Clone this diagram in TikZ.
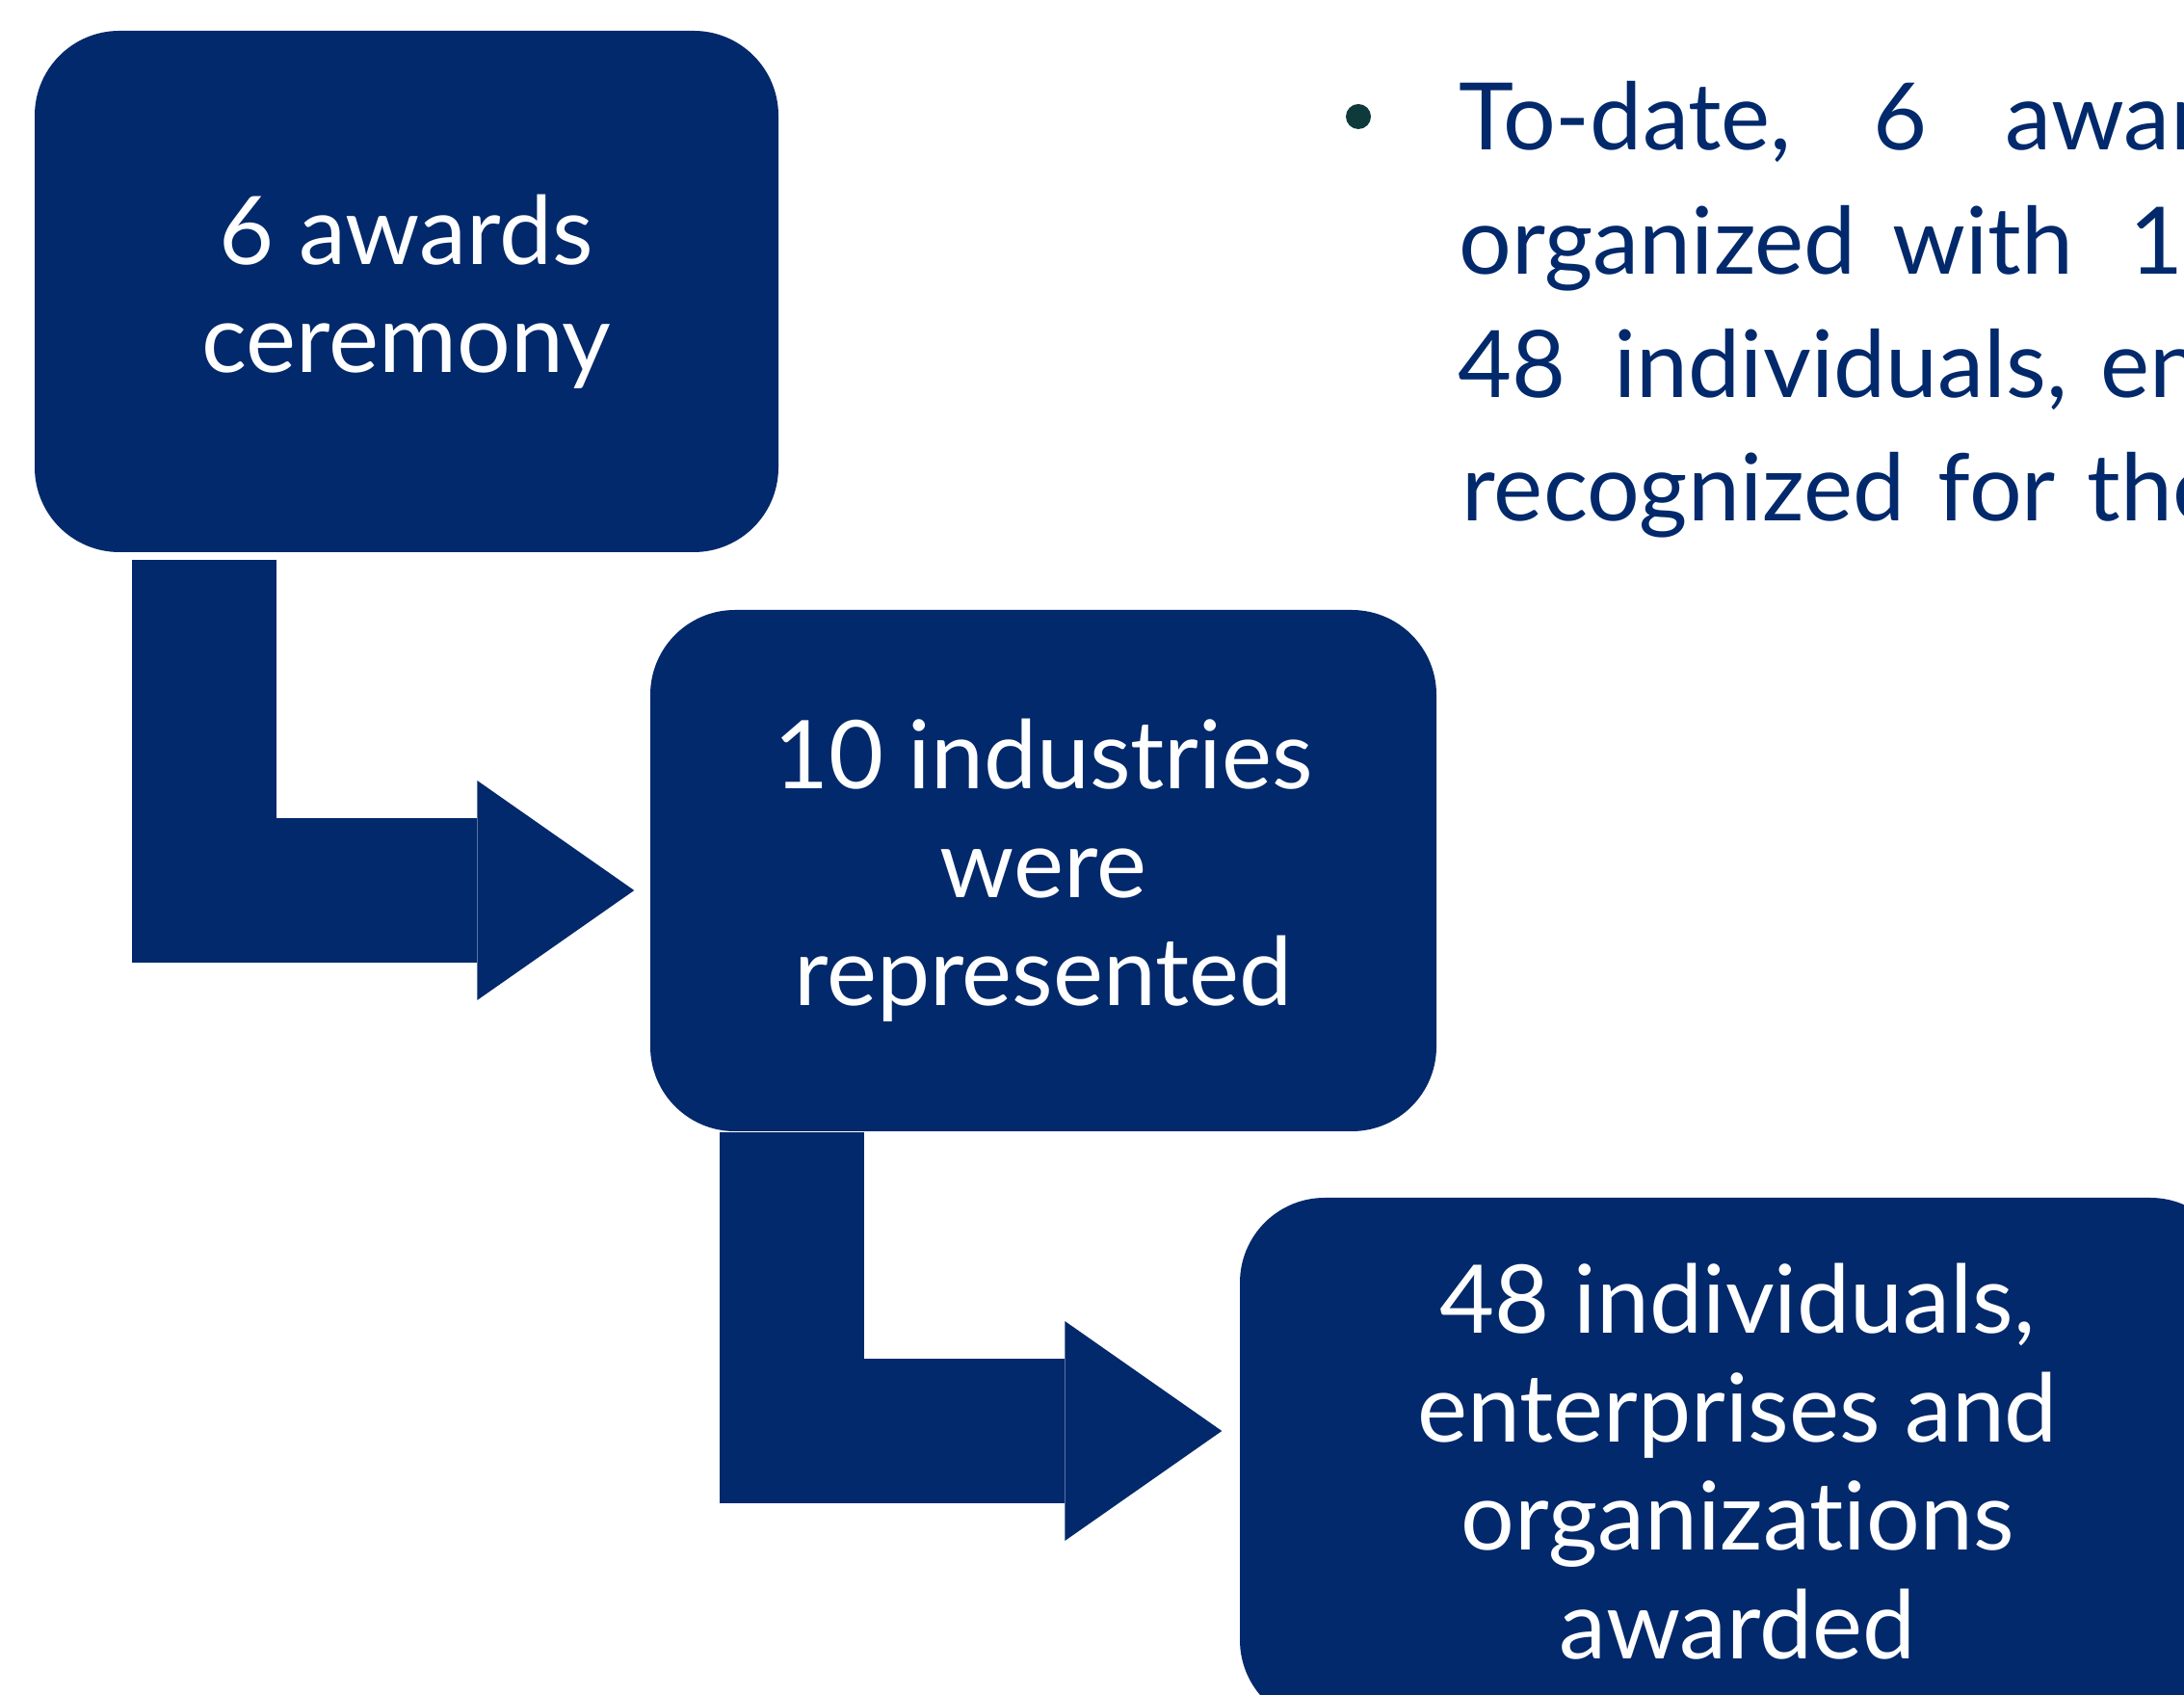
\documentclass[tikz,border=0pt]{standalone}
\usepackage{fontspec}
\setmainfont{Lato}[Ligatures=NoCommon]
\usetikzlibrary{arrows.meta}
\definecolor{navy}{HTML}{02296B}
\definecolor{dotcol}{HTML}{0E3A3C}
\begin{document}
\begin{tikzpicture}[
  stage/.style={fill=navy, rounded corners=0.88cm, minimum height=5.41cm, inner sep=0pt,
    align=center, text=white, font=\fontsize{28}{32}\selectfont},
  flow/.style={draw=navy, line width=1.5cm,
    -{Triangle[length=1.63cm,width=2.28cm,line width=0pt]}},
  say/.style={anchor=base west, inner sep=0pt, text=navy, font=\fontsize{27.5}{33}\selectfont}]
\useasboundingbox (0,0) rectangle (22.67,17.58);
\clip (0,0) rectangle (22.67,17.58);

\node[stage, minimum width=7.72cm] at (4.22,14.555) (cer) {6 awards\\ceremony};
\node[stage, minimum width=8.16cm] at (10.83,8.545) (ind) {10 industries\\were\\represented};
\node[stage, minimum width=10.33cm, minimum height=5.47cm] at (18.035,2.415) (win) {48 individuals,\\enterprises and\\organizations\\awarded};

\draw[flow] ([xshift=1.765cm,yshift=-0.07cm]cer.south west) |- ([xshift=-0.16cm,yshift=-0.205cm]ind.west);
\draw[flow] ([xshift=1.48cm]ind.south west) |- ([xshift=-0.18cm,yshift=0.315cm]win.west);

% bullet text, cut at the right edge
\node[circle, fill=dotcol, minimum size=0.26cm, inner sep=0pt] at (14.10,16.37) (dot) {};
\node[say] at (15.14,16.02) (l1a) {To-date,};
\node[say] at (19.44,16.02) (l1b) {6};
\node[say] at (20.81,16.02) (l1c) {awards};
\node[say] at (15.14,14.73) (l2a) {organized};
\node[say] at (19.64,14.73) (l2b) {with};
\node[say] at (22.10,14.73) (l2c) {10};
\node[say] at (15.13,13.45) (l3a) {48};
\node[say] at (16.75,13.45) (l3b) {individuals,};
\node[say] at (21.80,13.45) (l3c) {enterprises};
\node[say] at (15.17,12.17) (l4a) {recognized};
\node[say] at (20.11,12.17) (l4b) {for};
\node[say] at (21.66,12.17) (l4c) {the};

\end{tikzpicture}
\end{document}
